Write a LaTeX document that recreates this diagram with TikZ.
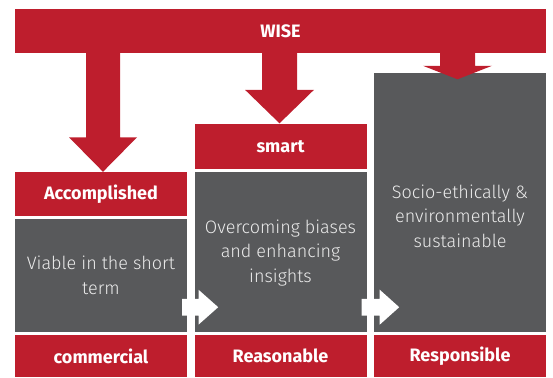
\documentclass[tikz,border=0pt]{standalone}
\usepackage{fontspec}
\setmainfont{Fira Sans}
\newfontfamily\lightf{Fira Sans Light}
\usetikzlibrary{calc}
\definecolor{wred}{HTML}{BE1E2D}
\definecolor{wgray}{HTML}{58595B}
\tikzset{
  redbox/.style={fill=wred, text=white, inner sep=0pt, font=\bfseries\fontsize{18}{21}\selectfont, minimum width=172pt},
  graybox/.style={fill=wgray, inner sep=0pt, minimum width=172pt},
  graytext/.style={text=white!88!wgray, align=center, font=\lightf\fontsize{18}{24.5}\selectfont},
  blockarrow/.style={fill=wred},
  whitearrow/.style={fill=white}
}
\begin{document}
\begin{tikzpicture}[x=1pt,y=-1pt]
\useasboundingbox (0,0) rectangle (553,377);
% top bar
\node[redbox, minimum width=531pt, minimum height=44pt] (wise) at (280.5,31.3) {WISE};
% column 1
\node[redbox, minimum height=44pt] (acc) at (101,194) {Accomplished};
\node[graybox, minimum height=113pt] (g1) at (101,275.5) {};
\node[redbox, minimum height=42pt] (comm) at (101,356) {commercial};
% column 2
\node[redbox, minimum height=44.5pt] (smart) at (280.5,146.25) {smart};
\node[graybox, minimum height=160.3pt] (g2) at (280.5,251.85) {};
\node[redbox, minimum height=42pt] (reas) at (280.5,356) {Reasonable};
% column 3
\node[graybox, minimum height=258.7pt] (g3) at (460,202.65) {};
\node[redbox, minimum height=42pt] (resp) at (460,356) {Responsible};
% gray texts
\node[graytext] (t1) at (g1.center) {Viable in the short\\term};
\node[graytext] (t2) at ($(g2.center)+(0,1)$) {Overcoming biases\\and enhancing\\insights};
\node[graytext] (t3) at (460,216) {Socio-ethically \&\\environmentally\\sustainable};
% block arrows from WISE
\coordinate (a1) at ($(acc.north)+(2,0)$);
\fill[blockarrow] ($(a1 |- wise.south)+(-17,-1)$) -- ($(a1 |- wise.south)+(17,-1)$) -- ($(a1)+(17,-34.5)$) -- ($(a1)+(34,-34.5)$) -- (a1) -- ($(a1)+(-34,-34.5)$) -- ($(a1)+(-17,-34.5)$) -- cycle;
\coordinate (a2) at ($(smart.north)+(-1,-0.5)$);
\fill[blockarrow] ($(a2 |- wise.south)+(-17.5,-1)$) -- ($(a2 |- wise.south)+(17.5,-1)$) -- ($(a2)+(17.5,-33.5)$) -- ($(a2)+(34.5,-33.5)$) -- (a2) -- ($(a2)+(-34.5,-33.5)$) -- ($(a2)+(-17.5,-33.5)$) -- cycle;
\coordinate (a3) at ($(g3.north)+(-2.5,6.2)$);
\fill[blockarrow] ($(a3 |- wise.south)+(-17.5,-1)$) -- ($(a3 |- wise.south)+(17.5,-1)$) -- ($(a3)+(17.5,-13.5)$) -- ($(a3)+(34.5,-13.5)$) -- (a3) -- ($(a3)+(-34.5,-13.5)$) -- ($(a3)+(-17.5,-13.5)$) -- cycle;
% white arrows between gray boxes
\coordinate (w1) at ($(g1.south east)+(-5,-25)$);
\fill[whitearrow] ($(w1)+(0,-8.4)$) -- ($(w1)+(16.5,-8.4)$) -- ($(w1)+(16.5,-17.3)$) -- ($(w1)+(36,0)$) -- ($(w1)+(16.5,17.3)$) -- ($(w1)+(16.5,8.4)$) -- ($(w1)+(0,8.4)$) -- cycle;
\coordinate (w2) at ($(g2.south east)+(-5,-25)$);
\fill[whitearrow] ($(w2)+(0,-8.4)$) -- ($(w2)+(18,-8.4)$) -- ($(w2)+(18,-17.5)$) -- ($(w2)+(37.5,0)$) -- ($(w2)+(18,17.5)$) -- ($(w2)+(18,8.4)$) -- ($(w2)+(0,8.4)$) -- cycle;
\end{tikzpicture}
\end{document}
